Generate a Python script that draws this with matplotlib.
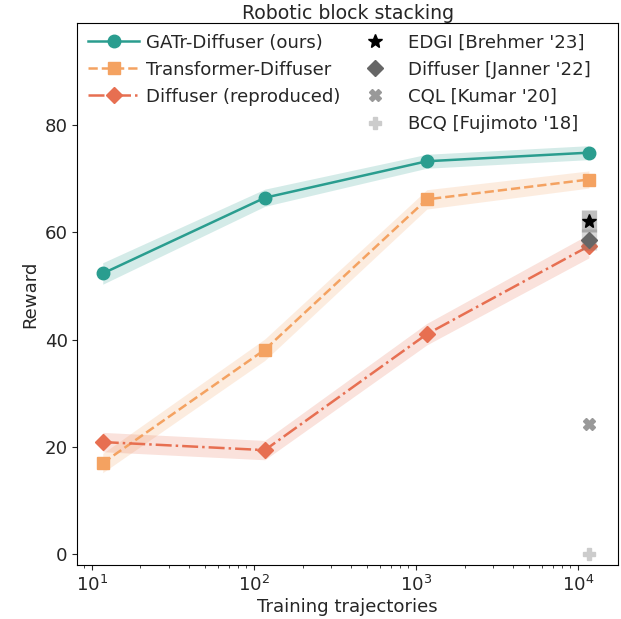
import matplotlib

matplotlib.use("Agg")
import matplotlib.pyplot as plt
from matplotlib.lines import Line2D

plt.rcParams["font.size"] = 13.1
plt.rcParams["text.color"] = "#262626"
plt.rcParams["axes.labelcolor"] = "#262626"
plt.rcParams["xtick.color"] = "#262626"
plt.rcParams["ytick.color"] = "#262626"

# training set sizes (trajectories)
n_traj = [11.7, 117, 1170, 11700]

gatr_mean = [52.3, 66.4, 73.2, 74.8]
gatr_err = [2.0, 1.6, 1.3, 1.3]
trans_mean = [17.0, 38.1, 66.1, 69.8]
trans_err = [1.8, 2.0, 1.8, 1.6]
diff_mean = [20.9, 19.4, 41.0, 57.4]
diff_err = [1.8, 1.8, 2.0, 2.2]

series_labels = ["GATr-Diffuser (ours)", "Transformer-Diffuser", "Diffuser (reproduced)"]
series_colors = ["#2a9d8f", "#f4a261", "#e76f51"]
series_markers = ["o", "s", "D"]
series_styles = ["-", "--", "-."]
series_ms = [9, 8.5, 8.5]

# published baselines at full dataset size
base_labels = ["EDGI [Brehmer '23]", "Diffuser [Janner '22]", "CQL [Kumar '20]", "BCQ [Fujimoto '18]"]
base_mean = [62.1, 58.6, 24.2, 0.0]
base_err = [2.1, 2.0, 0.0, 0.0]
base_colors = ["black", "#666666", "#999999", "#cccccc"]
base_markers = ["*", "D", "X", "P"]
base_ms = [10, 8, 9, 9]

fig = plt.figure(figsize=(6.21, 6.19), dpi=100)
ax = fig.add_axes([0.1245, 0.0872, 0.8707, 0.8761])

handles = []
for m, e, lab, c, mk, ls, ms in zip(
    [gatr_mean, trans_mean, diff_mean],
    [gatr_err, trans_err, diff_err],
    series_labels, series_colors, series_markers, series_styles, series_ms,
):
    lo = [a - b for a, b in zip(m, e)]
    hi = [a + b for a, b in zip(m, e)]
    ax.fill_between(n_traj, lo, hi, color=c, alpha=0.2, lw=0)
    (h,) = ax.plot(n_traj, m, ls=ls, color=c, marker=mk, ms=ms, lw=1.8, label=lab)
    handles.append(h)

# blank slot so the first legend column holds three entries
handles.append(Line2D([], [], alpha=0, label=" "))

x_full = n_traj[-1]
for m, e, lab, c, mk, ms in zip(base_mean, base_err, base_labels, base_colors, base_markers, base_ms):
    if e > 0:
        ax.vlines(x_full, m - e, m + e, color=c, lw=11, alpha=0.25)
    (h,) = ax.plot([x_full], [m], ls="none", marker=mk, ms=ms, color=c, label=lab)
    handles.append(h)

ax.set_xscale("log")
ax.set_xlim(8.15, 17700)
ax.set_ylim(-2, 99)
ax.set_yticks([0, 20, 40, 60, 80])
ax.set_xlabel("Training trajectories", labelpad=2)
ax.set_ylabel("Reward")
ax.set_title("Robotic block stacking", pad=3, fontsize=13.6)

ax.legend(
    handles=handles,
    labels=[h.get_label() for h in handles],
    ncol=2,
    loc="upper left",
    frameon=False,
    borderaxespad=0.2,
    handlelength=2.8,
    handletextpad=0.4,
    columnspacing=0.5,
    labelspacing=0.5,
)

fig.savefig("out.png", dpi=100)
